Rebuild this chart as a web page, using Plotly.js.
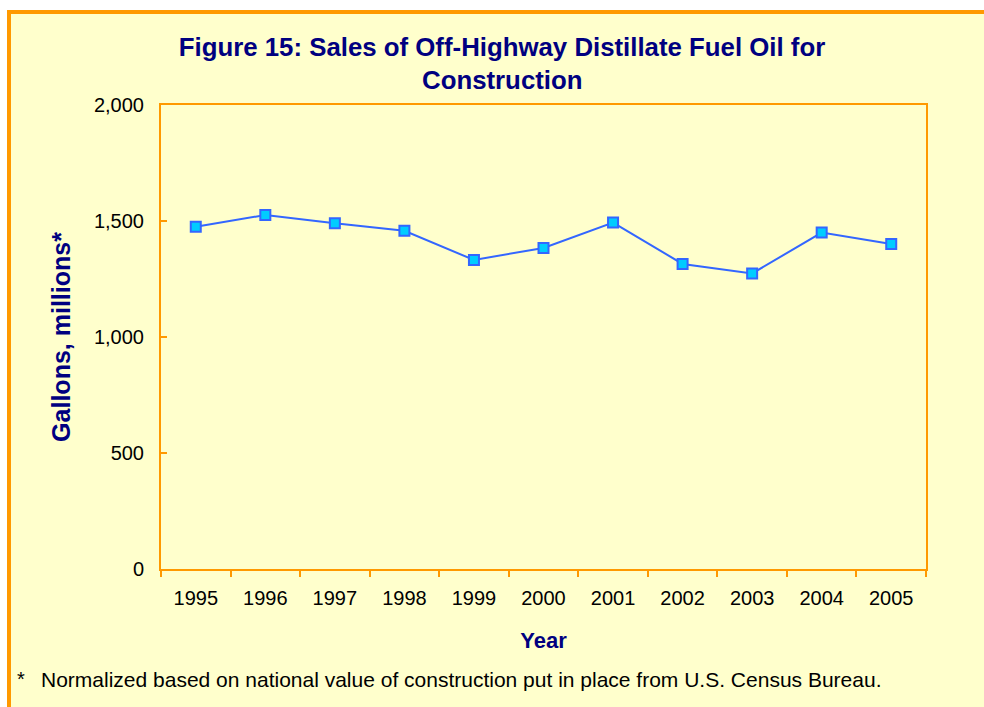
<!DOCTYPE html>
<html>
<head>
<meta charset="utf-8">
<script src="https://cdn.plot.ly/plotly-3.0.1.min.js"></script>
<style>
  html, body { margin: 0; padding: 0; background: #ffffff; width: 984px; height: 707px; overflow: hidden; }
  #frame { position: absolute; left: 7px; top: 10px; width: 1000px; height: 720px;
           background: #FFFFCC; border-left: 4px solid #FF9900; border-top: 4px solid #FF9900; }
  #chart { position: absolute; left: 0; top: 0; width: 984px; height: 707px; }
</style>
</head>
<body>
<div id="frame"></div>
<div id="chart"></div>
<script>
const years = ["1995","1996","1997","1998","1999","2000","2001","2002","2003","2004","2005"];
const gallons = [1475, 1526, 1490, 1458, 1332, 1384, 1493, 1315, 1274, 1450, 1401];
const yTicks = [0, 500, 1000, 1500, 2000];
const yTickText = ["0", "500", "1,000", "1,500", "2,000"];

const titleLine1 = "Figure 15: Sales of Off-Highway Distillate Fuel Oil for";
const titleLine2 = "Construction";
const footnoteMark = "*";
const footnote = "Normalized based on national value of construction put in place from U.S. Census Bureau.";

const navy = "#000080";
const orange = "#FF9900";
const fontFam = "Liberation Sans, Arial, sans-serif";

const trace = {
  type: "scatter",
  mode: "lines+markers",
  x: years,
  y: gallons,
  line: { color: "#3366FF", width: 2 },
  marker: { symbol: "square", size: 10, color: "#00CCFF", line: { color: "#3366FF", width: 2 } },
  hoverinfo: "x+y"
};

const layout = {
  width: 984,
  height: 707,
  paper_bgcolor: "rgba(0,0,0,0)",
  plot_bgcolor: "#FFFFCC",
  margin: { l: 161, r: 58, t: 105, b: 138, pad: 0 },
  showlegend: false,
  font: { family: fontFam, color: "#000000" },
  title: {
    text: "<b>" + titleLine1 + "</b>",
    xref: "container", x: 502 / 984, xanchor: "center",
    yref: "container", y: 1 - 47 / 707, yanchor: "middle",
    font: { family: fontFam, size: 25.8, color: navy }
  },
  xaxis: {
    type: "category",
    range: [-0.5, 10.5],
    showline: true, linecolor: orange, linewidth: 2, mirror: true,
    ticks: "outside", tickson: "boundaries", ticklen: 6, tickcolor: orange, tickwidth: 1.5,
    showgrid: false, zeroline: false,
    tickfont: { size: 20, color: "#000000" },
    ticklabelstandoff: 10,
    title: { text: "<b>Year</b>", font: { size: 22, color: navy }, standoff: 25 }
  },
  yaxis: {
    range: [0, 2000],
    tickmode: "array", tickvals: yTicks, ticktext: yTickText,
    showline: true, linecolor: orange, linewidth: 2, mirror: true,
    ticks: "inside", ticklen: 6, tickcolor: orange, tickwidth: 1.5,
    showgrid: false, zeroline: false,
    tickfont: { size: 20, color: "#000000" },
    ticklabelstandoff: 11,
    title: { text: "<b>Gallons, millions*</b>", font: { size: 25, color: navy }, standoff: 16 }
  },
  annotations: [
    {
      text: "<b>" + titleLine2 + "</b>",
      xref: "paper", x: (502 - 161) / 765, xanchor: "center",
      yref: "paper", y: (569 - 80) / 464, yanchor: "middle",
      showarrow: false,
      font: { family: fontFam, size: 25.8, color: navy }
    },
    {
      text: footnoteMark,
      xref: "paper", x: (15 - 161) / 765, xanchor: "left",
      yref: "paper", y: (569 - 679) / 464, yanchor: "middle",
      showarrow: false,
      font: { family: fontFam, size: 20, color: "#000000" }
    },
    {
      text: footnote,
      xref: "paper", x: (39 - 161) / 765, xanchor: "left",
      yref: "paper", y: (569 - 679) / 464, yanchor: "middle",
      showarrow: false,
      font: { family: fontFam, size: 21, color: "#000000" }
    }
  ]
};

Plotly.newPlot("chart", [trace], layout, { displayModeBar: false });
</script>
</body>
</html>
